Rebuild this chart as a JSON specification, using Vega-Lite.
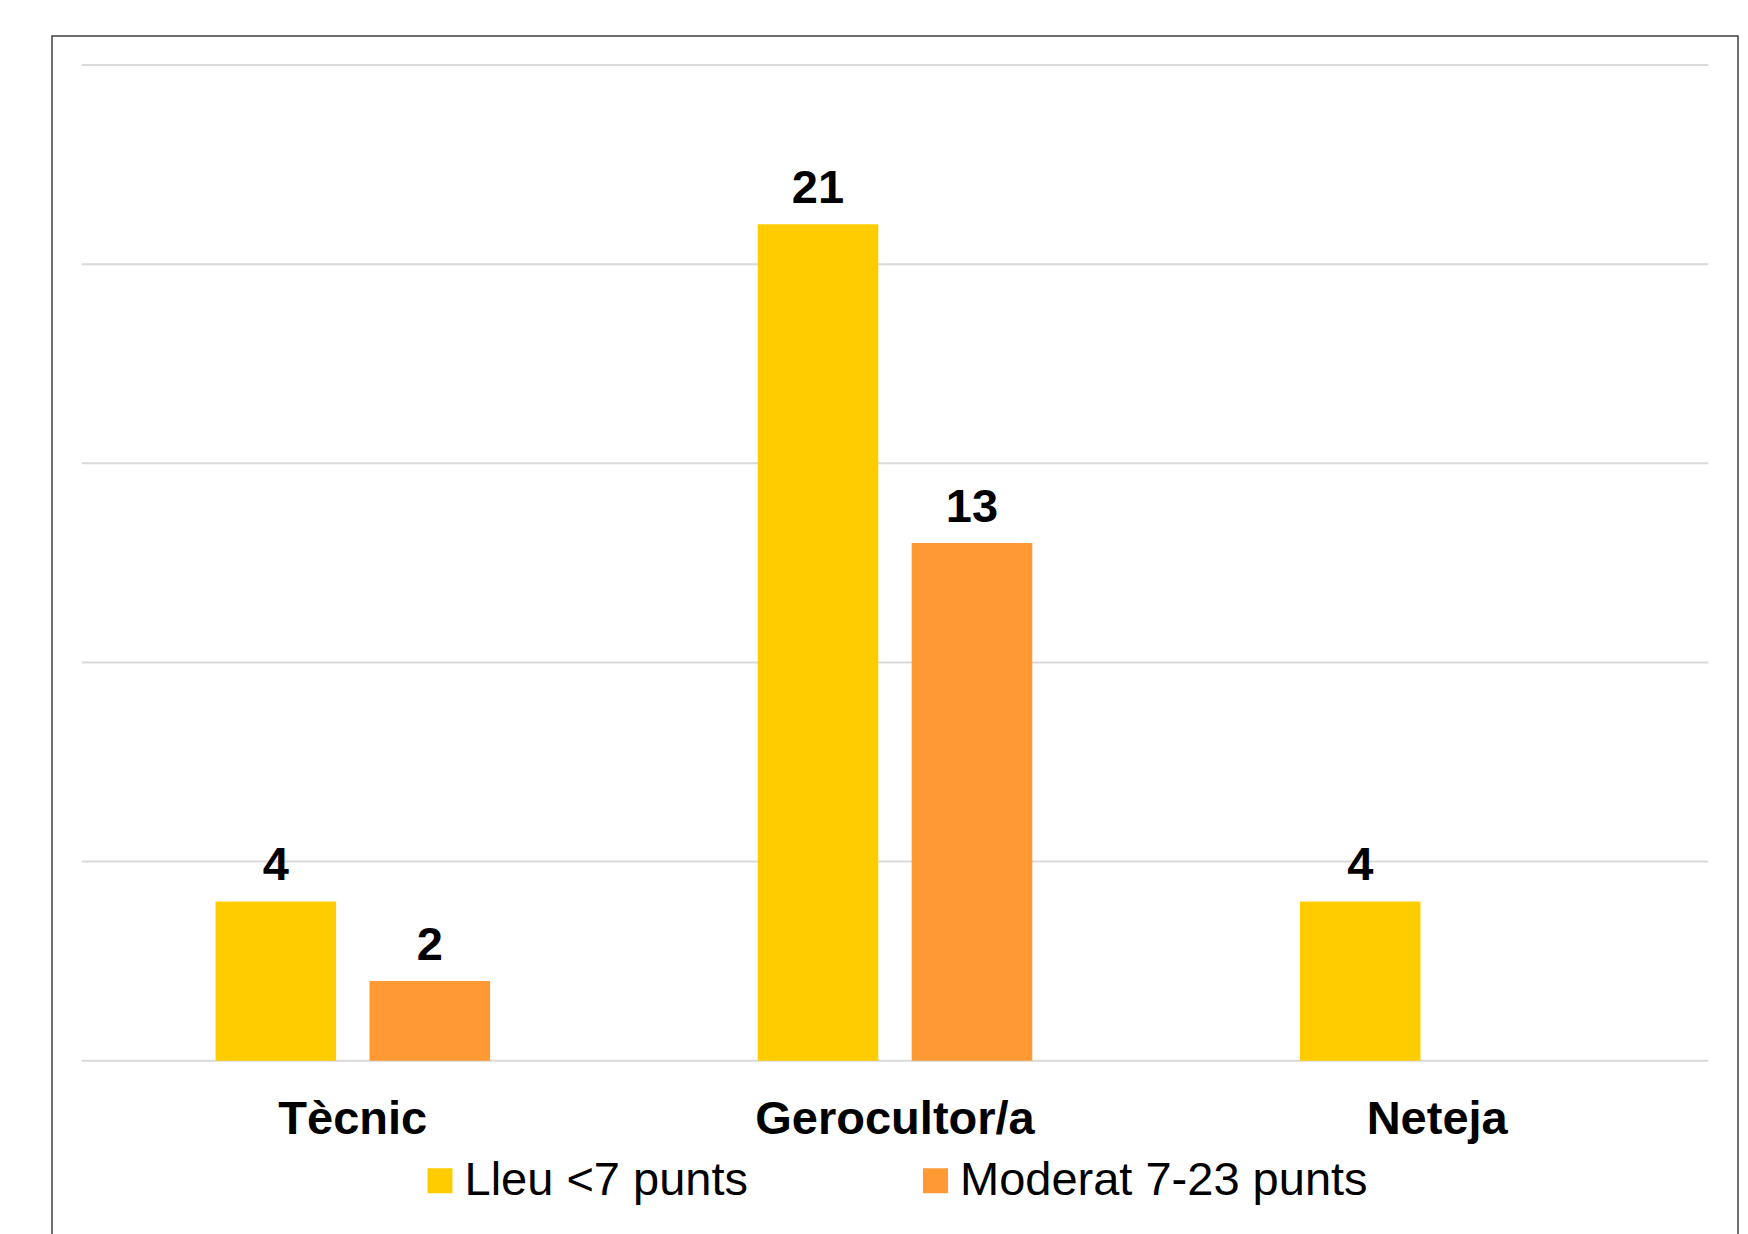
{
  "$schema": "https://vega.github.io/schema/vega-lite/v6.json",
  "width": 1686,
  "height": 1199,
  "autosize": {"type": "none"},
  "padding": {"left": 52, "top": 36, "right": 10, "bottom": 0},
  "background": "white",
  "config": {
    "view": {"stroke": "#404040", "strokeWidth": 1.5},
    "font": "Liberation Sans",
    "axisX": {
      "domain": false,
      "ticks": false,
      "tickSize": 0,
      "grid": false,
      "labelFont": "Liberation Sans",
      "labelFontSize": 47,
      "labelFontWeight": "bold",
      "labelColor": "#000000",
      "labelPadding": 72.6,
      "labelBaseline": "alphabetic",
      "labelAngle": 0,
      "labelLimit": 1000,
      "offset": -174.3,
      "title": null
    }
  },
  "datasets": {
    "valors": [
      {"ofici": "Tècnic", "nivell": "Lleu <7 punts", "n": 4},
      {"ofici": "Tècnic", "nivell": "Moderat 7-23 punts", "n": 2},
      {"ofici": "Gerocultor/a", "nivell": "Lleu <7 punts", "n": 21},
      {"ofici": "Gerocultor/a", "nivell": "Moderat 7-23 punts", "n": 13},
      {"ofici": "Neteja", "nivell": "Lleu <7 punts", "n": 4}
    ],
    "graella": [{"v": 0}, {"v": 5}, {"v": 10}, {"v": 15}, {"v": 20}, {"v": 25}]
  },
  "layer": [
    {
      "data": {"name": "graella"},
      "mark": {"type": "rule", "color": "#d9d9d9", "strokeWidth": 2},
      "encoding": {
        "x": {"datum": "Tècnic", "type": "nominal", "bandPosition": 0, "title": null,
              "scale": {"domain": ["Tècnic", "Gerocultor/a", "Neteja"], "paddingInner": 0, "paddingOuter": 0.0548}},
        "x2": {"datum": "Neteja", "bandPosition": 1},
        "y": {"field": "v", "type": "quantitative", "axis": null,
              "scale": {"domain": [-4.376, 25.728], "nice": false, "zero": false}}
      }
    },
    {
      "data": {"name": "valors"},
      "encoding": {
        "x": {"field": "ofici", "type": "nominal", "title": null, "sort": ["Tècnic", "Gerocultor/a", "Neteja"],
              "scale": {"domain": ["Tècnic", "Gerocultor/a", "Neteja"], "paddingInner": 0, "paddingOuter": 0.0548}},
        "xOffset": {"field": "nivell", "type": "nominal",
                    "scale": {"domain": ["Lleu <7 punts", "Moderat 7-23 punts"], "paddingInner": 0.217, "paddingOuter": 0.869}},
        "y": {"field": "n", "type": "quantitative", "axis": null, "stack": null,
              "scale": {"domain": [-4.376, 25.728], "nice": false, "zero": false}}
      },
      "layer": [
        {
          "mark": {"type": "bar"},
          "encoding": {
            "color": {
              "field": "nivell",
              "type": "nominal",
              "scale": {"domain": ["Lleu <7 punts", "Moderat 7-23 punts"], "range": ["#FFCC00", "#FF9933"]},
              "legend": {
                "orient": "none",
                "legendX": 364.5,
                "legendY": 1121,
                "direction": "horizontal",
                "title": null,
                "symbolType": "square",
                "symbolSize": 625,
                "symbolStrokeWidth": 0,
                "labelFontSize": 47,
                "labelFont": "Liberation Sans",
                "labelColor": "#000000",
                "labelLimit": 1000,
                "labelOffset": 1,
                "columnPadding": 163.5,
                "padding": 0
              }
            }
          }
        },
        {
          "mark": {"type": "text", "baseline": "alphabetic", "dy": -21, "fontSize": 47, "fontWeight": "bold", "color": "#000000", "font": "Liberation Sans"},
          "encoding": {
            "text": {"field": "n", "type": "quantitative"}
          }
        }
      ]
    }
  ]
}
